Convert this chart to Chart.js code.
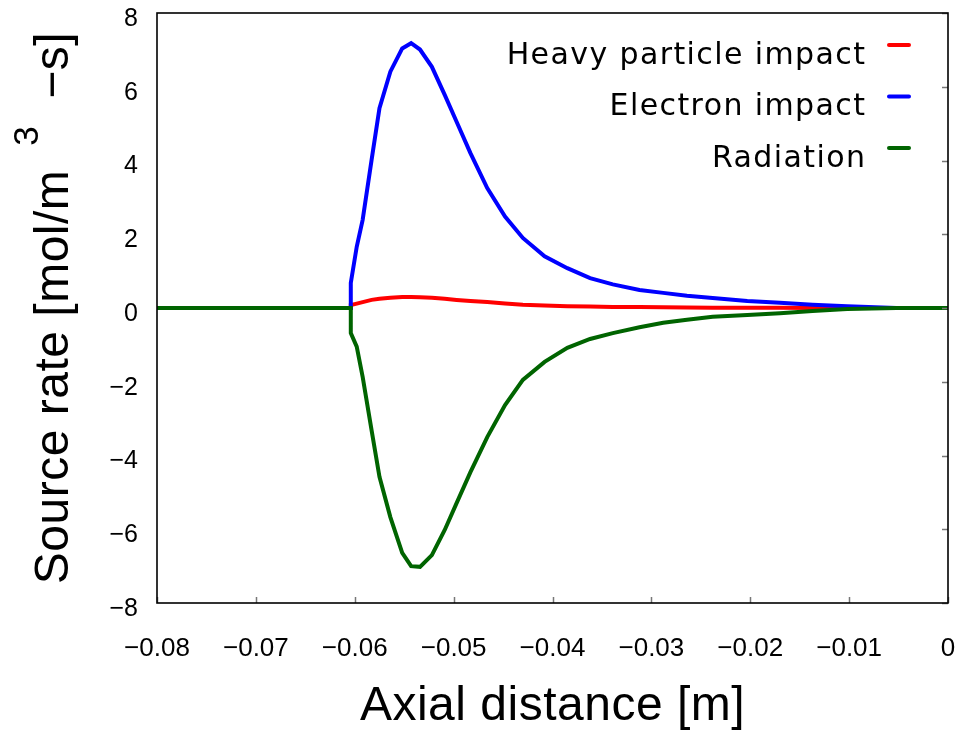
<!DOCTYPE html>
<html>
<head>
<meta charset="utf-8">
<script src="https://cdn.jsdelivr.net/npm/chart.js@4"></script>
<style>
html,body{margin:0;padding:0;background:#ffffff;}
#wrap{width:963px;height:733px;}
</style>
</head>
<body>
<div id="wrap"><canvas id="c" width="963" height="733"></canvas></div>
<script>
// ---- data ----
const xValues = [-0.08, -0.0604, -0.0604, -0.0598, -0.0592, -0.0583, -0.0575, -0.0564, -0.0552, -0.0543,
  -0.0534, -0.0522, -0.0509, -0.0497, -0.0483, -0.0466, -0.0448, -0.0430, -0.0408, -0.0385,
  -0.0362, -0.0339, -0.0312, -0.0288, -0.0264, -0.0238, -0.0203, -0.0170, -0.0137, -0.0102, -0.0052, 0];
const heavyParticle = [0, 0, 0.08, 0.12, 0.16, 0.22, 0.25, 0.28, 0.30, 0.30,
  0.29, 0.28, 0.25, 0.22, 0.19, 0.16, 0.12, 0.09, 0.07, 0.05,
  0.04, 0.03, 0.025, 0.02, 0.015, 0.01, 0.01, 0.005, 0, 0, 0, 0];
const electronImpact = [0, 0, 0.68, 1.66, 2.39, 4.01, 5.42, 6.41, 7.04, 7.18,
  7.01, 6.54, 5.78, 5.05, 4.2, 3.25, 2.48, 1.9, 1.4, 1.08,
  0.81, 0.64, 0.49, 0.41, 0.33, 0.27, 0.19, 0.14, 0.09, 0.05, 0, 0];
const radiation = [0, 0, -0.68, -1.05, -1.87, -3.31, -4.58, -5.67, -6.64, -7.0,
  -7.02, -6.7, -6.02, -5.29, -4.45, -3.5, -2.63, -1.95, -1.46, -1.08,
  -0.84, -0.68, -0.52, -0.40, -0.32, -0.24, -0.19, -0.14, -0.08, -0.03, 0, 0];
const seriesNames = ['Heavy particle impact', 'Electron impact', 'Radiation'];
const seriesColors = ['#ff0000', '#0000ff', '#006400'];
const xTickLabels = ['\u22120.08', '\u22120.07', '\u22120.06', '\u22120.05', '\u22120.04', '\u22120.03', '\u22120.02', '\u22120.01', '0'];
const yTickLabels = ['\u22128', '\u22126', '\u22124', '\u22122', '0', '2', '4', '6', '8'];
const xTitle = 'Axial distance [m]';
const yTitleParts = ['Source rate [mol/m', '3', '\u2212s]'];

const seriesValues = [heavyParticle, electronImpact, radiation];
const toPoints = (vals) => xValues.map((x, i) => ({x: x, y: vals[i]}));

const FONT = '"Liberation Sans", Arial, sans-serif';
const LEGEND_FONT = '"DejaVu Sans", "Liberation Sans", sans-serif';

const decor = {
  id: 'decor',
  afterDatasetsDraw(chart) {
    const ctx = chart.ctx, a = chart.chartArea;
    const xs = chart.scales.x, ys = chart.scales.y;
    ctx.save();
    // inward tick marks (bottom and right)
    ctx.strokeStyle = '#777777';
    ctx.lineWidth = 1.5;
    ctx.beginPath();
    xs.ticks.forEach(t => {
      const p = Math.round(xs.getPixelForValue(t.value)) + 0.5;
      ctx.moveTo(p, a.bottom); ctx.lineTo(p, a.bottom - 6);
    });
    ys.ticks.forEach(t => {
      const p = Math.round(ys.getPixelForValue(t.value)) + 0.5;
      ctx.moveTo(a.right, p); ctx.lineTo(a.right - 6, p);
    });
    ctx.stroke();
    // frame
    ctx.strokeStyle = '#000000';
    ctx.lineWidth = 1.6;
    ctx.strokeRect(a.left, a.top, a.right - a.left, a.bottom - a.top);
    ctx.restore();
  },
  afterDraw(chart) {
    const ctx = chart.ctx, a = chart.chartArea;
    ctx.save();
    ctx.fillStyle = '#000000';
    ctx.textBaseline = 'alphabetic';
    // x title
    ctx.font = '48px ' + FONT;
    ctx.letterSpacing = '0.5px';
    ctx.textAlign = 'left';
    let w = ctx.measureText(xTitle).width;
    ctx.fillText(xTitle, (a.left + a.right) / 2 - w / 2, 720);
    // y title (rotated, with superscript)
    ctx.translate(68, (a.top + a.bottom) / 2);
    ctx.rotate(-Math.PI / 2);
    ctx.font = '48px ' + FONT;
    const w1 = ctx.measureText(yTitleParts[0]).width;
    const w3 = ctx.measureText(yTitleParts[2]).width;
    ctx.font = '35px ' + FONT;
    const w2 = ctx.measureText(yTitleParts[1]).width;
    const g1 = 24, g2 = 27;
    const total = w1 + g1 + w2 + g2 + w3;
    let x0 = -total / 2;
    ctx.font = '48px ' + FONT;
    ctx.fillText(yTitleParts[0], x0, 0);
    ctx.font = '35px ' + FONT;
    ctx.fillText(yTitleParts[1], x0 + w1 + g1, -30);
    ctx.font = '48px ' + FONT;
    ctx.fillText(yTitleParts[2], x0 + w1 + g1 + w2 + g2, 0);
    ctx.restore();

    // legend (text right-aligned, sample line on the right)
    ctx.save();
    const ls = 1.4;
    ctx.font = '30px ' + LEGEND_FONT;
    ctx.letterSpacing = ls + 'px';
    ctx.textBaseline = 'alphabetic';
    ctx.textAlign = 'left';
    chart.data.datasets.forEach((ds, i) => {
      const lineY = 45 + i * 51.5;
      const baseY = lineY + 18.5;
      const tw = ctx.measureText(ds.label).width - ls;
      ctx.fillStyle = '#000000';
      ctx.fillText(ds.label, 865 - tw, baseY);
      ctx.strokeStyle = ds.borderColor;
      ctx.lineWidth = 4;
      ctx.lineCap = 'round';
      ctx.beginPath();
      ctx.moveTo(889, lineY); ctx.lineTo(909, lineY);
      ctx.stroke();
    });
    ctx.restore();
  }
};

new Chart(document.getElementById('c'), {
  type: 'line',
  data: {
    datasets: seriesNames.map((name, i) => ({
      label: name,
      data: toPoints(seriesValues[i]),
      borderColor: seriesColors[i],
      backgroundColor: seriesColors[i],
      borderWidth: 4,
      pointRadius: 0,
      tension: 0,
      fill: false,
      order: 2 - i
    }))
  },
  options: {
    responsive: false,
    devicePixelRatio: 1,
    animation: false,
    events: [],
    layout: {padding: {left: 0, top: 13, right: 15, bottom: 0}},
    plugins: {legend: {display: false}, tooltip: {enabled: false}},
    scales: {
      x: {
        type: 'linear', min: -0.08, max: 0,
        afterFit: (s) => { s.height = 130; s.paddingLeft = 0; s.paddingRight = 0; s.paddingTop = 0; s.paddingBottom = 0; },
        grid: {display: false, drawTicks: false},
        border: {display: false},
        ticks: {
          stepSize: 0.01, padding: 30, maxRotation: 0, autoSkip: false,
          color: '#000000', font: {family: FONT, size: 26},
          callback: (v, i) => xTickLabels[i]
        }
      },
      y: {
        type: 'linear', min: -8, max: 8,
        afterFit: (s) => { s.width = 157; s.paddingLeft = 0; s.paddingRight = 0; s.paddingTop = 0; s.paddingBottom = 0; },
        grid: {display: false, drawTicks: false},
        border: {display: false},
        ticks: {
          stepSize: 2, padding: 19, labelOffset: 6,
          color: '#000000', font: {family: FONT, size: 25},
          callback: (v, i) => yTickLabels[i]
        }
      }
    }
  },
  plugins: [decor]
});
</script>
</body>
</html>
